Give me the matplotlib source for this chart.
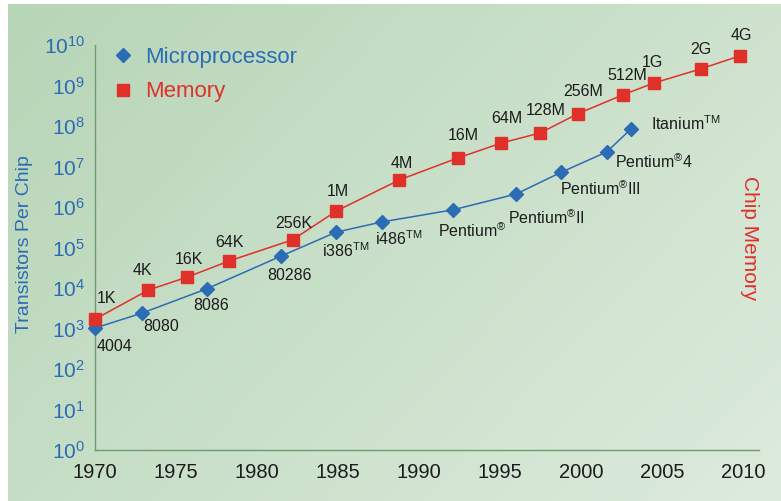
import numpy as np
import matplotlib
matplotlib.use("Agg")
import matplotlib.pyplot as plt
from matplotlib.lines import Line2D

plt.rcParams['font.family'] = ['Liberation Sans', 'DejaVu Sans']
plt.rcParams['mathtext.fontset'] = 'custom'
plt.rcParams['mathtext.rm'] = 'Liberation Sans'
plt.rcParams['mathtext.it'] = 'Liberation Sans:italic'
plt.rcParams['mathtext.bf'] = 'Liberation Sans:bold'

# ---- data ----
mem_years = [1970.0, 1973.3, 1975.7, 1978.3, 1982.2, 1984.9, 1988.8, 1992.4,
             1995.1, 1997.5, 1999.8, 2002.6, 2004.5, 2007.4, 2009.8]
mem_log = [3.23, 3.95, 4.27, 4.67, 5.19, 5.90, 6.67, 7.21,
           7.58, 7.83, 8.30, 8.77, 9.06, 9.41, 9.73]
mem_labels = ['1K', '4K', '16K', '64K', '256K', '1M', '4M', '16M',
              '64M', '128M', '256M', '512M', '1G', '2G', '4G']
mem_offsets = [(8, 15), (-4, 14), (1, 13), (0, 13), (1, 12), (1, 14), (2, 12), (4, 16),
               (4, 18), (4, 16), (4, 16), (3, 14), (-1, 15), (0, 14), (1, 15)]

cpu_years = [1970.0, 1972.9, 1976.9, 1981.5, 1984.9, 1987.7, 1992.1, 1996.0,
             1998.8, 2001.6, 2003.1]
cpu_log = [3.01, 3.38, 3.98, 4.79, 5.38, 5.63, 5.93, 6.32, 6.86, 7.36, 7.93]
cpu_labels = ['4004', '8080', '8086', '80286', r'i386$^{\mathregular{TM}}$',
              r'i486$^{\mathregular{TM}}$', r'Pentium$^{\circledR}$',
              r'Pentium$^{\circledR}$II', r'Pentium$^{\circledR}$III',
              r'Pentium$^{\circledR}$4', r'Itanium$^{\mathregular{TM}}$']
cpu_offsets = [(1, -13), (1, -10), (-10, -12), (-10, -14), (-10, -13), (-5, -12),
               (-11, -15), (-6, -17), (-1, -12), (6, -7), (14, 4)]

x_ticks = [1970, 1975, 1980, 1985, 1990, 1995, 2000, 2005, 2010]
y_exps = list(range(0, 11))

BLUE = '#2b6cb5'
RED = '#e0302a'
SPINE = '#6e9c70'

W, H = 781, 501
fig = plt.figure(figsize=(W / 100, H / 100), dpi=100)
fig.patch.set_facecolor('white')

# background gradient panel
bg = fig.add_axes([8 / W, 0, 1 - 8 / W, 1 - 4 / H], zorder=0)
gx, gy = np.meshgrid(np.linspace(0, 1, 300), np.linspace(0, 1, 200))
t = np.clip(0.62 * gx + 0.38 * gy, 0, 1)
c0 = np.array([183, 213, 183]) / 255
c1 = np.array([221, 235, 221]) / 255
img = c0[None, None, :] * (1 - t[..., None]) + c1[None, None, :] * t[..., None]
bg.imshow(img, aspect='auto', extent=(0, 1, 1, 0))
bg.set_axis_off()

ax = fig.add_axes([95 / W, 1 - 450 / H, (759 - 95) / W, (450 - 45) / H], zorder=1)
ax.set_facecolor('none')

mem_vals = [10 ** v for v in mem_log]
cpu_vals = [10 ** v for v in cpu_log]

ax.plot(cpu_years, cpu_vals, color=BLUE, lw=1.1, marker='D', ms=7.0,
        mfc=BLUE, mec=BLUE, clip_on=False, zorder=3)
ax.plot(mem_years, mem_vals, color=RED, lw=1.1, marker='s', ms=8.4,
        mfc=RED, mec=RED, clip_on=False, zorder=3)

for xv, yv, lab, off in zip(mem_years, mem_vals, mem_labels, mem_offsets):
    ax.annotate(lab, (xv, yv), xytext=off, textcoords='offset points',
                ha='center', va='center', fontsize=11.5, color='#1c1c1c', zorder=4)
for xv, yv, lab, off in zip(cpu_years, cpu_vals, cpu_labels, cpu_offsets):
    ax.annotate(lab, (xv, yv), xytext=off, textcoords='offset points',
                ha='left', va='center', fontsize=11.5, color='#1c1c1c', zorder=4)

ax.set_yscale('log')
ax.set_xlim(1970, 2011)
ax.set_ylim(1, 1e10)
ax.set_xticks(x_ticks)
ax.set_xticklabels([str(v) for v in x_ticks])
ax.set_yticks([10 ** e for e in y_exps])
ax.set_yticklabels([r'$\mathregular{10^{%d}}$' % e for e in y_exps])
ax.minorticks_off()
ax.tick_params(axis='x', length=0, pad=9, labelsize=14.5, labelcolor='#1c1c1c')
ax.tick_params(axis='y', length=0, pad=7, labelsize=15, labelcolor=BLUE)

for s in ['top', 'right']:
    ax.spines[s].set_visible(False)
for s in ['left', 'bottom']:
    ax.spines[s].set_color(SPINE)
    ax.spines[s].set_linewidth(1.0)

fig.text(25 / W, 1 - 244 / H, 'Transistors Per Chip', rotation=90, color=BLUE,
         fontsize=14, ha='center', va='center')
fig.text(749 / W, 1 - 238 / H, 'Chip Memory', rotation=-90, color=RED,
         fontsize=15, ha='center', va='center')

handles = [Line2D([], [], ls='none', marker='D', ms=7.6, color=BLUE),
           Line2D([], [], ls='none', marker='s', ms=8.4, color=RED)]
leg = ax.legend(handles, ['Microprocessor', 'Memory'], loc='upper left',
                bbox_to_anchor=(0.025, 0.995), frameon=False, fontsize=16,
                handlelength=1.0, handletextpad=0.5, labelspacing=0.6,
                borderaxespad=0, borderpad=0, labelcolor=[BLUE, RED])

fig.savefig('out.png', dpi=100)
